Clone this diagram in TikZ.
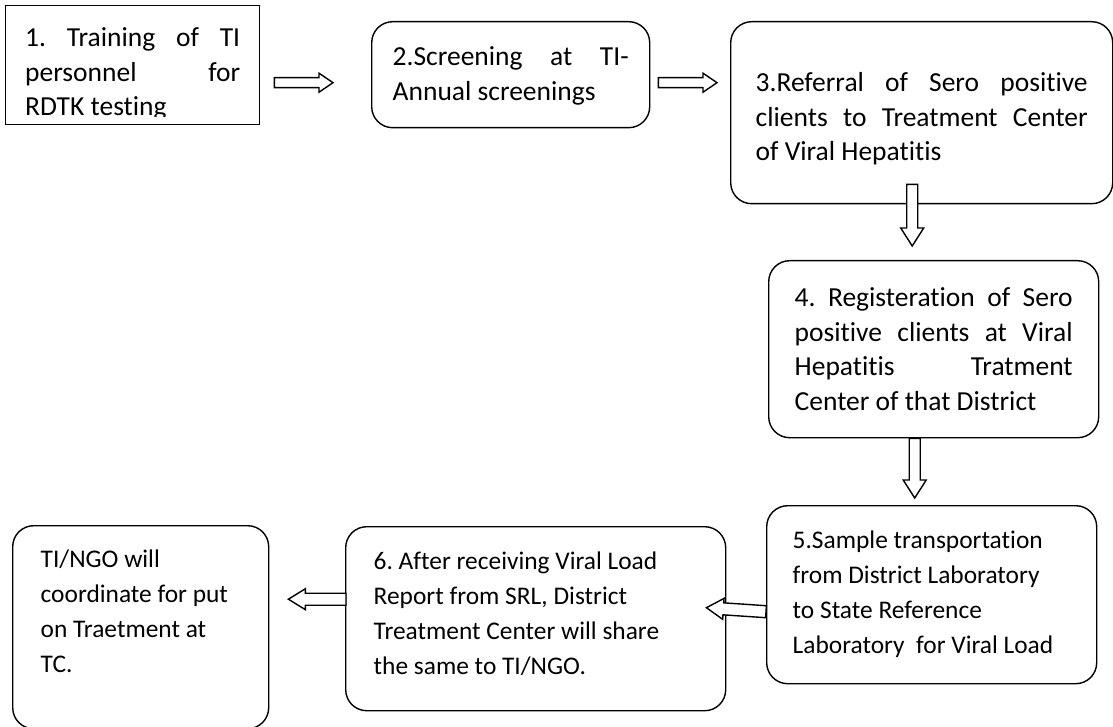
\documentclass[tikz,border=0pt]{standalone}
\usepackage{fontspec}
\setmainfont{Carlito}[Ligatures=NoCommon]
\usetikzlibrary{calc}

\tikzset{
  flowbox/.style={draw, line width=1.4, inner sep=0pt, anchor=north west,
    font=\fontsize{27.5pt}{34.5pt}\selectfont\frenchspacing},
  roundbox/.style={flowbox, rounded corners=21},
  lowbox/.style={roundbox, font=\fontsize{25.4pt}{35pt}\selectfont\frenchspacing},
  hollow/.style={draw, line width=1.4, fill=white, line join=miter}
}
% text block: height, width, first baseline, text
\newcommand{\flowtext}[4]{\parbox[c][#1][t]{#2}{\rule{0pt}{#3}#4}}
% block arrow: start, tip, half shaft, head length, half head
\newcommand{\hollowarrow}[5]{%
  \coordinate (hs) at (#1);
  \coordinate (ht) at (#2);
  \coordinate (hh) at ($(ht)!#4!(hs)$);
  \draw[hollow] ($(hs)!#3!90:(ht)$) -- ($(hh)!#3!-90:(hs)$) -- ($(hh)!#5!-90:(hs)$) -- (ht)
    -- ($(hh)!#5!90:(hs)$) -- ($(hh)!#3!90:(hs)$) -- ($(hs)!#3!-90:(ht)$) -- cycle;
}

\begin{document}
\begin{tikzpicture}[x=1pt, y=-1pt]
\useasboundingbox (0,0) rectangle (1113,727);

\node[flowbox, minimum width=254, minimum height=119] (b1) at (5,5) {};
\begin{scope}
\clip (b1.north west) rectangle ($(b1.south east)+(0,-9)$);
\node[flowbox, draw=none, anchor=north] (t1) at (b1.north)
  {\flowtext{119pt}{215pt}{41pt}{1. Training of TI\linebreak personnel for\linebreak RDTK testing}};
\end{scope}
\node[roundbox, minimum width=278, minimum height=106] (b2) at (371,21)
  {\flowtext{106pt}{236pt}{44pt}{2.Screening at TI-\linebreak Annual screenings}};
\node[roundbox, minimum width=382, minimum height=182] (b3) at (730,21)
  {\flowtext{182pt}{332pt}{70pt}{3.Referral of Sero positive\linebreak clients to Treatment Center\linebreak of Viral Hepatitis}};
\node[roundbox, minimum width=330, minimum height=177] (b4) at (768,260)
  {\flowtext{177pt}{278pt}{46pt}{4. Registeration of Sero\linebreak positive clients at Viral\linebreak Hepatitis Tratment\linebreak Center of that District}};
\node[lowbox, minimum width=330, minimum height=178] (b5) at (766,505)
  {\flowtext{178pt}{278pt}{43pt}{\raggedright 5.Sample transportation\\ from District Laboratory\\ to State Reference\\ Laboratory\ \ for Viral Load}};
\node[lowbox, minimum width=380, minimum height=184] (b6) at (345,526)
  {\flowtext{184pt}{324pt}{43pt}{\raggedright 6. After receiving Viral Load\\ Report from SRL, District\\ Treatment Center will share\\ the same to TI/NGO.}};
\node[lowbox, minimum width=256, minimum height=203] (b7) at (12,525)
  {\flowtext{203pt}{200pt}{42pt}{\raggedright TI/NGO will\\ coordinate for put\\ on Traetment at\\ TC.}};

\coordinate (a12s) at ($(b1.east)+(14,17.5)$);
\coordinate (a12t) at ($(b2.west)+(-38,8)$);
\coordinate (a23s) at ($(b2.east)+(8,8)$);
\coordinate (a23t) at ($(b3.west)+(-13,-30)$);
\coordinate (a34s) at ($(b3.south)+(-9.5,-20)$);
\coordinate (a34t) at ($(b4.north)+(-21.5,-14)$);
\coordinate (a45s) at ($(b4.south)+(-19,0)$);
\coordinate (a45t) at ($(b5.north)+(-17,-7)$);
\coordinate (a56s) at ($(b5.west)+(0,17)$);
\coordinate (a56t) at ($(b6.east)+(-20,-11)$);
\coordinate (a67s) at ($(b6.west)+(1,-19.5)$);
\coordinate (a67t) at ($(b7.east)+(19,-28)$);

\hollowarrow{a12s}{a12t}{5pt}{14pt}{9.5pt}
\hollowarrow{a23s}{a23t}{5pt}{14pt}{9.5pt}
\hollowarrow{a34s}{a34t}{5.5pt}{18pt}{11.5pt}
\hollowarrow{a45s}{a45t}{5.5pt}{18pt}{11.5pt}
\hollowarrow{a56s}{a56t}{6pt}{17pt}{10.5pt}
\hollowarrow{a67s}{a67t}{6pt}{17pt}{10.5pt}
\end{tikzpicture}
\end{document}
